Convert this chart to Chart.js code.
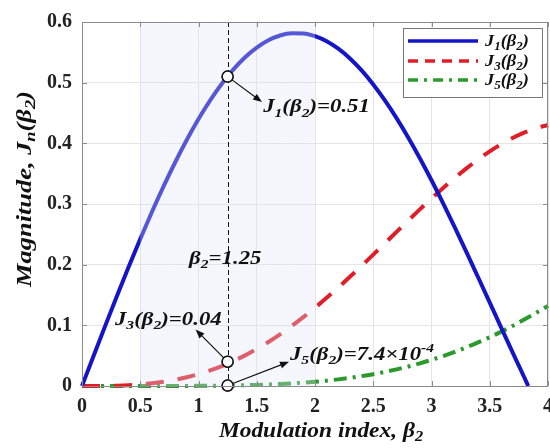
<!DOCTYPE html>
<html><head><meta charset="utf-8">
<script src="https://cdn.jsdelivr.net/npm/chart.js@4/dist/chart.umd.min.js"></script>
<style>html,body{margin:0;padding:0;background:#fff;overflow:hidden;width:550px;height:448px}#wrap{width:600px;height:448px;position:relative}</style>
</head><body><div id="wrap"><canvas id="c" width="562" height="448" style="width:562px;height:448px"></canvas></div>
<script>
// ---------- data ----------
const beta = [0,0.1,0.2,0.3,0.4,0.5,0.6,0.7,0.8,0.9,1.0,1.1,1.2,1.3,1.4,1.5,1.6,1.7,1.8,1.9,2.0,2.1,2.2,2.3,2.4,2.5,2.6,2.7,2.8,2.9,3.0,3.1,3.2,3.3,3.4,3.5,3.6,3.7,3.8,3.9,4.0];
const betaJ1 = [0,0.1,0.2,0.3,0.4,0.5,0.6,0.7,0.8,0.9,1.0,1.1,1.2,1.3,1.4,1.5,1.6,1.7,1.8,1.9,2.0,2.1,2.2,2.3,2.4,2.5,2.6,2.7,2.8,2.9,3.0,3.1,3.2,3.3,3.4,3.5,3.6,3.7,3.8,3.83];
const j1 = [0,0.0499,0.0995,0.1483,0.1960,0.2423,0.2867,0.3290,0.3688,0.4059,0.4401,0.4709,0.4983,0.5220,0.5419,0.5579,0.5699,0.5778,0.5815,0.5812,0.5767,0.5683,0.5560,0.5399,0.5202,0.4971,0.4708,0.4416,0.4097,0.3754,0.3391,0.3009,0.2613,0.2207,0.1792,0.1374,0.0955,0.0538,0.0128,0];
const j3 = [0,0.00002,0.00017,0.00056,0.00132,0.00256,0.00440,0.00693,0.01025,0.01443,0.01956,0.02570,0.03287,0.04114,0.05050,0.06096,0.07252,0.08515,0.09880,0.11342,0.12894,0.14528,0.16233,0.17998,0.19812,0.21660,0.23529,0.25405,0.27270,0.29109,0.30906,0.32644,0.34307,0.35877,0.37339,0.38677,0.39876,0.40923,0.41803,0.42504,0.43017];
const j5 = [0,0,0,0.0000006,0.0000027,0.0000080,0.0000199,0.0000429,0.0000831,0.0001487,0.0002498,0.0003987,0.0006101,0.0009009,0.0012902,0.0017993,0.0024527,0.0032753,0.0042930,0.0055380,0.0070396,0.0088290,0.0109370,0.0133970,0.0162420,0.0195020,0.0232070,0.0273880,0.0320690,0.0372820,0.0430290,0.0493430,0.0562370,0.0637200,0.0717900,0.0804400,0.0896800,0.0994800,0.1098400,0.1207000,0.1321000];
const xTicks = [0,0.5,1,1.5,2,2.5,3,3.5,4];
const yTicks = [0,0.1,0.2,0.3,0.4,0.5,0.6];
const markerBeta = [1.25,1.25,1.25];
const markerVal = [0.51,0.04,0.00074];
const shadeRange = [0.5,2.0];
// label parts: [text, style] style 0 normal, 1 subscript, 2 superscript
const legendLabels = [
  [['J',0],['1',1],['(β',0],['2',1],[')',0]],
  [['J',0],['3',1],['(β',0],['2',1],[')',0]],
  [['J',0],['5',1],['(β',0],['2',1],[')',0]]
];
const xTitle = [['Modulation index, β',0],['2',1]];
const yTitle = [['Magnitude, J',0],['n',1],['(β',0],['2',1],[')',0]];
const betaLabel = [['β',0],['2',1],['=1.25',0]];
const annoLabels = [
  [['J',0],['1',1],['(β',0],['2',1],[')=0.51',0]],
  [['J',0],['3',1],['(β',0],['2',1],[')=0.04',0]],
  [['J',0],['5',1],['(β',0],['2',1],[')=7.4×10',0],['-4',2]]
];
// anchor positions of annotation texts / arrow tips in data units
const annoTextPos = [[1.555,0.461],[0.283,0.111],[1.785,0.053]];
const annoArrowTip = [[1.545,0.468],[0.975,0.093],[1.777,0.040]];
const betaLabelPos = [1.23,0.211];

const colors = ['#1414c8','#e01e28','#2a9a2a'];
const dashes = [[],[18,14],[13,6,3,6]];

// ---------- helpers ----------
const FAM = '"Liberation Serif","Times New Roman",serif';
function fontFor(size, style){ const s = style ? Math.round(size*0.68) : size; return `italic bold ${s}px ${FAM}`; }
function richWidth(ctx, parts, size){ let w=0; for(const [t,s] of parts){ ctx.font=fontFor(size,s); w+=ctx.measureText(t).width; } return w; }
function drawRich(ctx, parts, x, y, size, align, sx){
  sx = sx || 1;
  const w = richWidth(ctx, parts, size)*sx;
  let cx = align==='center' ? x - w/2 : align==='right' ? x - w : x;
  ctx.save();
  ctx.translate(cx, y); ctx.scale(sx, 1);
  ctx.textBaseline='alphabetic'; ctx.textAlign='left';
  let px = 0;
  for(const [t,s] of parts){
    ctx.font=fontFor(size,s);
    const dy = s===1 ? size*0.22 : s===2 ? -size*0.42 : 0;
    ctx.fillText(t, px, dy);
    px += ctx.measureText(t).width;
  }
  ctx.restore();
}
function arrow(ctx, x0,y0,x1,y1){
  const ang=Math.atan2(y1-y0,x1-x0), L=9, W=3.5;
  ctx.beginPath(); ctx.moveTo(x0,y0); ctx.lineTo(x1-Math.cos(ang)*L*0.8,y1-Math.sin(ang)*L*0.8); ctx.stroke();
  ctx.beginPath(); ctx.moveTo(x1,y1);
  ctx.lineTo(x1-Math.cos(ang)*L+Math.sin(ang)*W, y1-Math.sin(ang)*L-Math.cos(ang)*W);
  ctx.lineTo(x1-Math.cos(ang)*L-Math.sin(ang)*W, y1-Math.sin(ang)*L+Math.cos(ang)*W);
  ctx.closePath(); ctx.fill();
}

const annot = {
  id:'annot',
  afterDatasetsDraw(chart){
    const {ctx, chartArea:a, scales:{x,y}} = chart;
    ctx.save();
    // shaded band (overlay)
    const x0=x.getPixelForValue(shadeRange[0]), x1=x.getPixelForValue(shadeRange[1]);
    ctx.fillStyle='rgba(225,233,248,0.3)';
    ctx.fillRect(x0,a.top,x1-x0,a.bottom-a.top);
    ctx.save();
    ctx.beginPath(); ctx.rect(x0,a.top,x1-x0,a.bottom-a.top); ctx.clip();
    ctx.strokeStyle='rgba(205,215,235,0.12)'; ctx.lineWidth=1; ctx.beginPath();
    const H=a.bottom-a.top;
    for(let k=-H;k<x1-x0;k+=3){ ctx.moveTo(x0+k,a.bottom); ctx.lineTo(x0+k+H,a.top); }
    ctx.stroke(); ctx.restore();
    // vertical dashed line
    const vx=Math.round(x.getPixelForValue(markerBeta[0]))+0.5;
    ctx.strokeStyle='#111'; ctx.lineWidth=1; ctx.setLineDash([5,3]);
    ctx.beginPath(); ctx.moveTo(vx,a.top); ctx.lineTo(vx,a.bottom); ctx.stroke();
    ctx.setLineDash([]);
    // arrows
    ctx.strokeStyle='#111'; ctx.fillStyle='#111'; ctx.lineWidth=1.2;
    for(let i=0;i<3;i++){
      const mx=x.getPixelForValue(markerBeta[i]), my=y.getPixelForValue(markerVal[i]);
      const tx=x.getPixelForValue(annoArrowTip[i][0]), ty=y.getPixelForValue(annoArrowTip[i][1]);
      const ang=Math.atan2(ty-my,tx-mx);
      arrow(ctx, mx+Math.cos(ang)*5.5, my+Math.sin(ang)*5.5, tx, ty);
    }
    ctx.restore();
    // markers on top
    chart.getDatasetMeta(0).controller.draw();
    ctx.save();
    ctx.fillStyle='#111';
    for(let i=0;i<3;i++){
      drawRich(ctx, annoLabels[i], x.getPixelForValue(annoTextPos[i][0]), y.getPixelForValue(annoTextPos[i][1])+6, 19, 'left', 1.2);
    }
    drawRich(ctx, betaLabel, x.getPixelForValue(betaLabelPos[0]), y.getPixelForValue(betaLabelPos[1])+6, 19, 'center', 1.2);
    ctx.restore();
  },
  afterDraw(chart){
    const {ctx, chartArea:a, scales:{x,y}} = chart;
    ctx.save();
    // frame + inner ticks
    ctx.strokeStyle='#8a8a8a'; ctx.lineWidth=1;
    ctx.strokeRect(Math.round(a.left)+0.5, Math.round(a.top)+0.5, Math.round(a.right-a.left)-1, Math.round(a.bottom-a.top));
    ctx.beginPath();
    for(const v of xTicks){ const px=Math.round(x.getPixelForValue(v))+0.5; ctx.moveTo(px,a.bottom); ctx.lineTo(px,a.bottom-5); ctx.moveTo(px,a.top); ctx.lineTo(px,a.top+5); }
    for(const v of yTicks){ const py=Math.round(y.getPixelForValue(v))+0.5; ctx.moveTo(a.left,py); ctx.lineTo(a.left+5,py); ctx.moveTo(a.right,py); ctx.lineTo(a.right-5,py); }
    ctx.stroke();
    // legend
    const lx0=a.right-145, ly0=a.top+6, lw=139, lh=69;
    ctx.fillStyle='#fff'; ctx.fillRect(lx0,ly0,lw,lh);
    ctx.strokeStyle='#777'; ctx.strokeRect(lx0+0.5,ly0+0.5,lw,lh);
    const rows=[ly0+13, ly0+33, ly0+52];
    for(let i=0;i<3;i++){
      ctx.strokeStyle=colors[i]; ctx.lineWidth=3.5; ctx.setLineDash(i===1?[10,7]:i===2?[10,6,3,6]:[]);
      ctx.beginPath(); ctx.moveTo(lx0+5,rows[i]); ctx.lineTo(lx0+75,rows[i]); ctx.stroke();
      ctx.setLineDash([]);
      ctx.fillStyle='#111';
      drawRich(ctx, legendLabels[i], lx0+82, rows[i]+5, 17, 'left', 1.08);
    }
    // axis titles
    ctx.fillStyle='#111';
    drawRich(ctx, xTitle, 321, 437, 20, 'center', 1.17);
    ctx.translate(31,(a.top+a.bottom)/2-15); ctx.rotate(-Math.PI/2);
    drawRich(ctx, yTitle, 0, 0, 20, 'center', 1.32);
    ctx.restore();
  }
};

const mk = (xs, ys) => xs.map((v,i)=>({x:v,y:ys[i]}));
new Chart(document.getElementById('c'), {
  type:'line',
  data:{ datasets:[
    { label:'markers', data:mk(markerBeta,markerVal), showLine:false, pointRadius:5.5, pointBackgroundColor:'#fff', pointBorderColor:'#111', pointBorderWidth:1.5, clip:false },
    { label:'J1', data:mk(betaJ1,j1), borderColor:colors[0], borderWidth:4, pointRadius:0, cubicInterpolationMode:'monotone', borderDash:dashes[0], clip:false },
    { label:'J3', data:mk(beta,j3), borderColor:colors[1], borderWidth:4, pointRadius:0, cubicInterpolationMode:'monotone', borderDash:dashes[1], clip:false },
    { label:'J5', data:mk(beta,j5), borderColor:colors[2], borderWidth:4, pointRadius:0, cubicInterpolationMode:'monotone', borderDash:dashes[2], clip:false }
  ]},
  options:{
    responsive:false, animation:false, events:[], devicePixelRatio:1,
    layout:{ padding:{ top:14, right:8, left:0, bottom:0 } },
    plugins:{ legend:{display:false}, tooltip:{enabled:false} },
    scales:{
      x:{ type:'linear', min:0, max:4,
        afterBuildTicks:s=>{ s.ticks = xTicks.map(v=>({value:v})); },
        afterFit:s=>{ s.height=62; },
        ticks:{ callback:v=>String(v), font:{family:FAM, weight:'bold', size:20}, color:'#222', padding:9, maxRotation:0, autoSkip:false },
        grid:{ color:'#e4e4e4', drawTicks:false }, border:{display:false} },
      y:{ min:0, max:0.6,
        afterBuildTicks:s=>{ s.ticks = yTicks.map(v=>({value:v})); },
        afterFit:s=>{ s.width=82; },
        ticks:{ callback:v=> v===0 ? '0' : Number(v).toFixed(1), font:{family:FAM, weight:'bold', size:20}, color:'#222', padding:10, autoSkip:false },
        grid:{ color:'#e4e4e4', drawTicks:false }, border:{display:false} }
    }
  },
  plugins:[annot]
});
</script>
</body></html>
